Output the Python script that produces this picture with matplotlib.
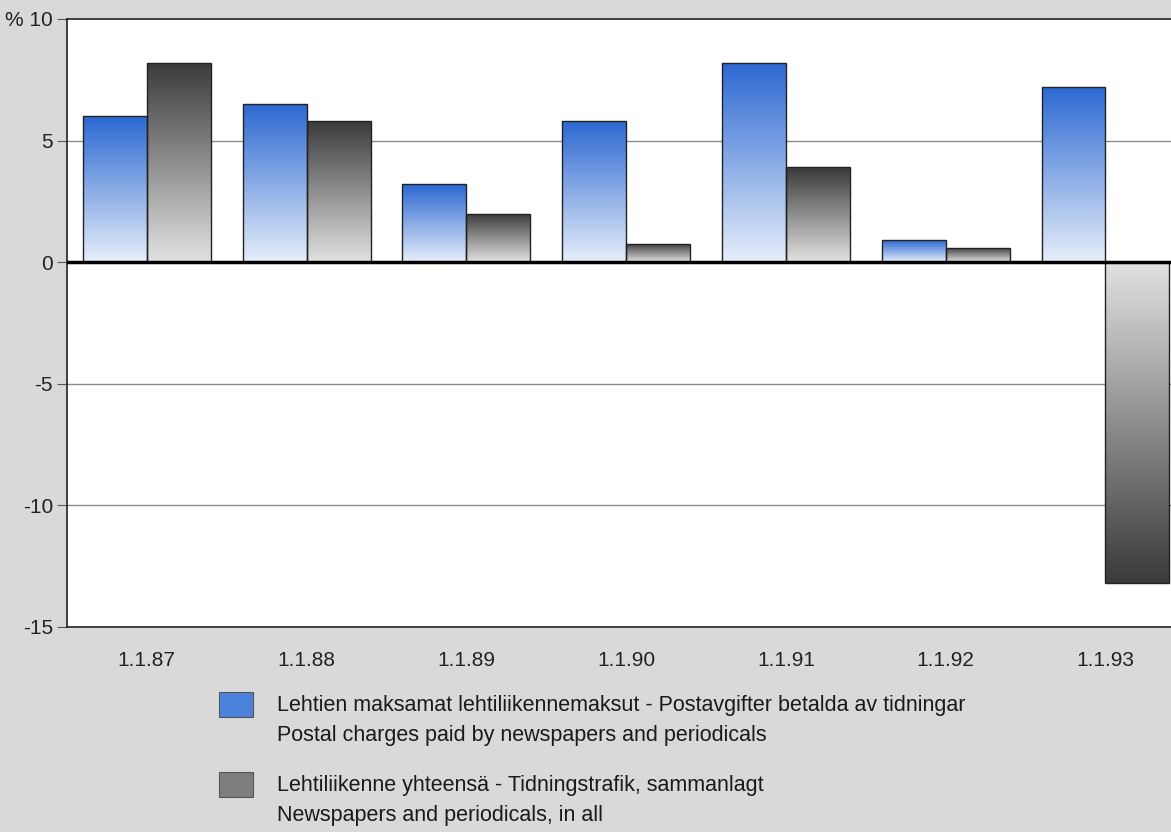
import numpy as np
import matplotlib
matplotlib.use("Agg")
import matplotlib.pyplot as plt
from matplotlib.patches import Rectangle
from matplotlib.colors import LinearSegmentedColormap

# datos
fechas = ["1.1.87", "1.1.88", "1.1.89", "1.1.90", "1.1.91", "1.1.92", "1.1.93"]
maksut = [6.0, 6.5, 3.2, 5.8, 8.2, 0.9, 7.2]
yhteensa = [8.2, 5.8, 2.0, 0.75, 3.9, 0.6, -13.2]
yticks = [10, 5, 0, -5, -10, -15]
ytick_labels = ["% 10", "5", "0", "-5", "-10", "-15"]
legend_lines = [
    ["Lehtien maksamat lehtiliikennemaksut - Postavgifter betalda av tidningar",
     "Postal charges paid by newspapers and periodicals"],
    ["Lehtiliikenne yhteensä - Tidningstrafik, sammanlagt",
     "Newspapers and periodicals, in all"],
]

plt.rcParams["font.family"] = ["Liberation Sans", "DejaVu Sans"]

fondo = "#d9d9d9"
azul = LinearSegmentedColormap.from_list("azul", ["#e6eefa", "#2c68d2"])
gris = LinearSegmentedColormap.from_list("gris", ["#e2e2e2", "#3a3a3a"])

fig = plt.figure(figsize=(11.71, 8.32), dpi=100, facecolor=fondo)
ax = fig.add_axes([0.0572, 0.2464, 0.955, 0.7308])
ax.set_facecolor("white")

x = np.arange(len(fechas))
ancho = 0.4
barras1 = ax.bar(x - ancho / 2, maksut, ancho, facecolor="none", edgecolor="#222222", linewidth=1, zorder=3)
barras2 = ax.bar(x + ancho / 2, yhteensa, ancho, facecolor="none", edgecolor="#222222", linewidth=1, zorder=3)

# degradado dentro de cada barra (oscuro en el extremo, claro cerca del cero)
grad = np.linspace(0, 1, 256).reshape(-1, 1)
for barras, cmap in [(barras1, azul), (barras2, gris)]:
    for b in barras:
        x0, y0 = b.get_x(), b.get_y()
        w, h = b.get_width(), b.get_height()
        y1 = y0 + h
        img = ax.imshow(grad, cmap=cmap, aspect="auto", origin="lower",
                        extent=[x0, x0 + w, 0, y1], zorder=2, interpolation="bilinear")
        img.set_clip_path(b)

ax.set_xlim(-0.5, 6.5)
ax.set_ylim(-15, 10)

for v in [5, -5, -10]:
    ax.axhline(v, color="#8a8a8a", linewidth=1, zorder=1)
ax.axhline(0, color="black", linewidth=2.5, zorder=4)

ax.set_yticks(yticks)
ax.set_yticklabels(ytick_labels, fontsize=15, color="#222222")
ax.set_xticks(x)
ax.set_xticklabels(fechas, fontsize=15, color="#222222")
ax.tick_params(axis="y", length=7, width=0.8, color="#555555", pad=3)
ax.tick_params(axis="x", length=0, pad=17)

for lado in ["left", "bottom", "top"]:
    ax.spines[lado].set_color("#222222")
    ax.spines[lado].set_linewidth(1.2)
ax.spines["right"].set_visible(False)

# leyenda
colores_ley = ["#4a82dc", "#7d7d7d"]
ys = [717, 797]
for color, yp, textos in zip(colores_ley, ys, legend_lines):
    fig.add_artist(Rectangle((219 / 1171, 1 - yp / 832), 34 / 1171, 25 / 832,
                             transform=fig.transFigure, facecolor=color,
                             edgecolor="#555555", linewidth=0.8))
    for k, texto in enumerate(textos):
        fig.text(277 / 1171, 1 - (yp - 12 + 30 * k) / 832, texto, fontsize=15.5,
                 va="center", ha="left", color="#1a1a1a")

plt.savefig("out.png", dpi=100, facecolor=fondo)
